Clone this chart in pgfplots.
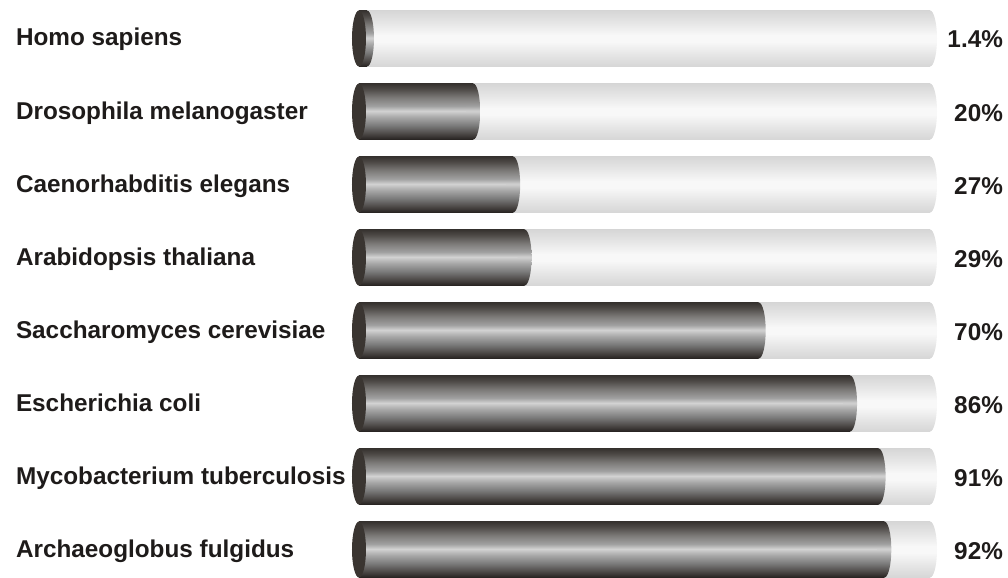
\documentclass[border=0pt]{standalone}
\usepackage{pgfplots}
\pgfplotsset{compat=1.18}
\usepackage{fontspec}
\setmainfont{Liberation Sans}
\usetikzlibrary{shapes.geometric}

\definecolor{ink}{HTML}{1E1B1A}
\definecolor{capcol}{HTML}{3A3531}
% dark cylinder, bottom to top
\definecolor{d0}{HTML}{262220}
\definecolor{d1}{HTML}{4A4644}
\definecolor{d2}{HTML}{7A7A7A}
\definecolor{d3}{HTML}{A8A8A8}
\definecolor{d4}{HTML}{D2D2D2}
\definecolor{d5}{HTML}{A0A0A0}
\definecolor{d6}{HTML}{7C7A78}
\definecolor{d7}{HTML}{4E4A47}
\definecolor{d8}{HTML}{36322F}
% light track
\definecolor{t0}{HTML}{D6D6D6}
\definecolor{t1}{HTML}{E6E6E6}
\definecolor{t2}{HTML}{F8F8F8}

\pgfdeclareverticalshading{darkcyl}{100bp}{color(0bp)=(d0); color(25bp)=(d0);
  color(30bp)=(d1); color(37.5bp)=(d2); color(45bp)=(d3); color(50.5bp)=(d4);
  color(55bp)=(d5); color(62.5bp)=(d6); color(70bp)=(d7); color(75bp)=(d8);
  color(100bp)=(d8)}
\pgfdeclareverticalshading{trackcyl}{100bp}{color(0bp)=(t0); color(25bp)=(t0);
  color(36bp)=(t1); color(47bp)=(t2); color(53bp)=(t2); color(64bp)=(t1);
  color(75bp)=(t0); color(100bp)=(t0)}

\tikzset{
  cylend/.style={ellipse, minimum width=14bp, minimum height=56bp,
    inner sep=0pt, outer sep=0pt, anchor=center, draw=none},
}
\pgfplotsset{
  track/.style={xbar, bar width=56bp, bar shift=0pt, draw=none, shading=trackcyl, forget plot},
  value/.style={xbar, bar width=56bp, bar shift=0pt, draw=none, shading=darkcyl, forget plot},
  nodeonly/.style={draw=none, mark=none, forget plot},
}

\begin{document}
\begin{tikzpicture}
\begin{axis}[
  width=1008bp, height=577bp, scale only axis,
  xmin=-62.87, xmax=113.66,
  ymin=0.4726, ymax=8.3767, y dir=reverse,
  hide axis, clip=false,
]
% keep the full frame
\addplot[draw=none, mark=none, forget plot] coordinates {(-62.87,0.4726) (113.66,8.3767)};

% light track, one bar per plot so each gets its own shading
\addplot[track] coordinates {(100,1)};
\addplot[track] coordinates {(100,2)};
\addplot[track] coordinates {(100,3)};
\addplot[track] coordinates {(100,4)};
\addplot[track] coordinates {(100,5)};
\addplot[track] coordinates {(100,6)};
\addplot[track] coordinates {(100,7)};
\addplot[track] coordinates {(100,8)};
\addplot[nodeonly, nodes near coords={},
  every node near coord/.style={cylend, shading=trackcyl}]
  coordinates {(100,1) (100,2) (100,3) (100,4) (100,5) (100,6) (100,7) (100,8)};

% dark value bars
\addplot[value] coordinates {(1.4,1)};
\addplot[value] coordinates {(20,2)};
\addplot[value] coordinates {(27,3)};
\addplot[value] coordinates {(29,4)};
\addplot[value] coordinates {(70,5)};
\addplot[value] coordinates {(86,6)};
\addplot[value] coordinates {(91,7)};
\addplot[value] coordinates {(92,8)};
\addplot[nodeonly, nodes near coords={},
  every node near coord/.style={cylend, shading=darkcyl}]
  coordinates {(1.4,1) (20,2) (27,3) (29,4) (70,5) (86,6) (91,7) (92,8)};

% left caps
\addplot[nodeonly, nodes near coords={},
  every node near coord/.style={cylend, fill=capcol}]
  coordinates {(0,1) (0,2) (0,3) (0,4) (0,5) (0,6) (0,7) (0,8)};

% names
\addplot[nodeonly,
  point meta=explicit symbolic,
  nodes near coords={\pgfplotspointmeta},
  every node near coord/.style={anchor=base west, inner sep=0pt, yshift=-7.5bp,
    text=ink, font=\fontsize{24.4}{28}\selectfont\bfseries}]
  coordinates {
    (-60.1,1) [Homo sapiens]
    (-60.1,2) [Drosophila melanogaster]
    (-60.1,3) [Caenorhabditis elegans]
    (-60.1,4) [Arabidopsis thaliana]
    (-60.1,5) [Saccharomyces cerevisiae]
    (-60.1,6) [Escherichia coli]
    (-60.1,7) [Mycobacterium tuberculosis]
    (-60.1,8) [Archaeoglobus fulgidus]
  };

% percentages
\addplot[nodeonly,
  point meta=explicit symbolic,
  nodes near coords={\pgfplotspointmeta},
  every node near coord/.style={anchor=base east, inner sep=0pt, yshift=-9.5bp,
    text=ink, font=\fontsize{24.4}{28}\selectfont\bfseries}]
  coordinates {
    (112.8,1) [1.4\%]
    (112.8,2) [20\%]
    (112.8,3) [27\%]
    (112.8,4) [29\%]
    (112.8,5) [70\%]
    (112.8,6) [86\%]
    (112.8,7) [91\%]
    (112.8,8) [92\%]
  };
\end{axis}
\end{tikzpicture}
\end{document}
